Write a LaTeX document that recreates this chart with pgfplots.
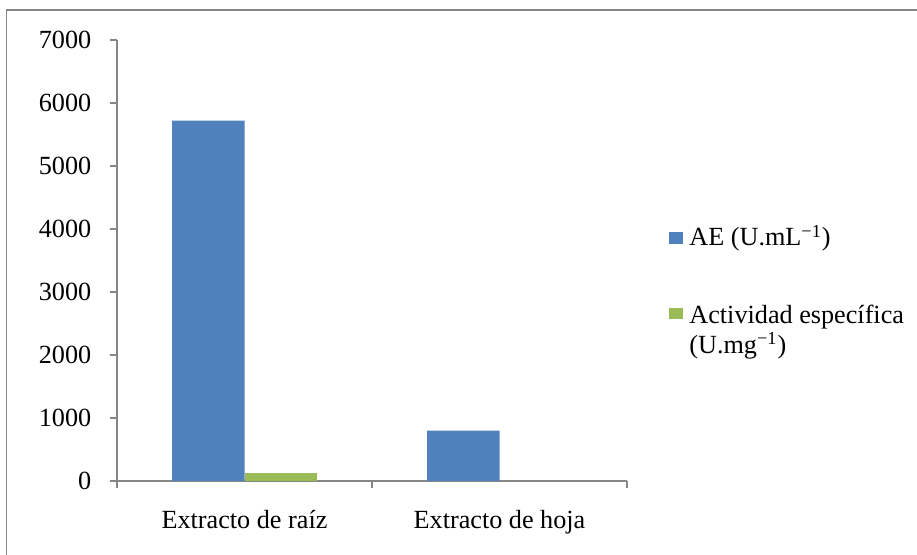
\documentclass[border=0pt]{standalone}
\usepackage{fontspec}
\setmainfont{Liberation Serif}
\usepackage{pgfplots}
\pgfplotsset{compat=1.18}
\definecolor{aeblue}{HTML}{4F81BD}
\definecolor{aegreen}{HTML}{9BBB59}
\definecolor{axisgray}{HTML}{868686}
\newcommand{\chartfont}{\fontsize{13.1pt}{15pt}\selectfont}

\begin{document}
\begin{tikzpicture}[x=1pt,y=1pt]
\useasboundingbox (0,0) rectangle (458.5,277.5);
% chart area frame
\draw[axisgray, line width=0.6pt] (3.25,-20) rectangle (480,272.5);
\begin{axis}[
  at={(58.5pt,37pt)}, anchor=south west,
  scale only axis, width=255pt, height=220.5pt,
  xmin=-0.5, xmax=1.5, ymin=0, ymax=7000,
  ybar=0pt, bar width=36.25pt,
  axis x line*=bottom, axis y line*=left,
  axis line style={axisgray, line width=1pt},
  xtick={0,1}, xticklabels={Extracto de raíz, Extracto de hoja},
  minor xtick={-0.5,0.5,1.5},
  major x tick style={draw=none},
  minor x tick style={axisgray, line width=1pt},
  ytick={0,1000,...,7000},
  y tick style={axisgray, line width=1pt},
  tick align=outside, major tick length=3.5pt, minor tick length=3.5pt,
  scaled y ticks=false,
  /pgf/number format/assume math mode=true,
  /pgf/number format/set thousands separator={},
  ticklabel style={font=\chartfont},
  yticklabel style={inner xsep=0pt, xshift=-9.15pt},
  xticklabel style={anchor=base, inner sep=0pt, yshift=-20.5pt},
]
\addplot[fill=aeblue, draw=none] coordinates {(0,5720) (1,800)};
% the leaf extract's specific activity is zero, so only the root value is drawn
\addplot[fill=aegreen, draw=none] coordinates {(0,120)};
\end{axis}
% legend
\fill[aeblue] (334.5,155.7) rectangle (341.3,161.25);
\node[anchor=base west, inner sep=0pt, font=\chartfont] at (344.5,154.5) {AE (U.mL\textsuperscript{−1})};
\fill[aegreen] (334.5,118) rectangle (341.3,123.5);
\node[anchor=base west, inner sep=0pt, font=\chartfont] at (344.5,115.75) {Actividad específica};
\node[anchor=base west, inner sep=0pt, font=\chartfont] at (344.5,100.7) {(U.mg\textsuperscript{−1})};
\end{tikzpicture}
\end{document}
